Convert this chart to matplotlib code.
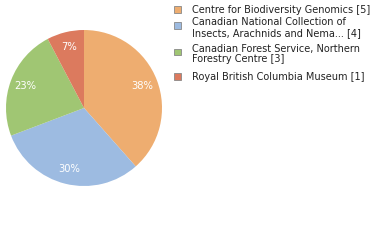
import matplotlib
matplotlib.use("Agg")
import matplotlib.pyplot as plt
from matplotlib.patches import Rectangle

labels = ["Centre for Biodiversity Genomics [5]",
          "Canadian National Collection of\nInsects, Arachnids and Nema... [4]",
          "Canadian Forest Service, Northern\nForestry Centre [3]",
          "Royal British Columbia Museum [1]"]
counts = [5, 4, 3, 1]
colors = ["#EEAD70", "#9DBBE1", "#A0C673", "#DC7A5E"]

W, H = 380, 240
fig = plt.figure(figsize=(W / 100, H / 100), dpi=100)

# pie: centre ~(84,108), radius ~78 px
cx, cy, r = 84, 108, 78
ax = fig.add_axes([(cx - r) / W, 1 - (cy + r) / H, 2 * r / W, 2 * r / H])
wedges, texts, autotexts = ax.pie(
    counts, colors=colors, startangle=90, counterclock=False,
    autopct=lambda p: f"{int(p)}%", pctdistance=0.8,
    wedgeprops=dict(linewidth=0),
    textprops=dict(color="white", fontsize=7.2))
ax.set_xlim(-1, 1)
ax.set_ylim(-1, 1)
ax.set_aspect("equal")
ax.axis("off")

# legend drawn by hand
square_y = [10, 26, 52, 77]
text_y = [10, 27.5, 54, 76.5]
for lab, col, sy, ty in zip(labels, colors, square_y, text_y):
    fig.patches.append(Rectangle((174 / W, 1 - (sy + 3) / H), 6.5 / W, 6.5 / H,
                                 transform=fig.transFigure, facecolor=col,
                                 edgecolor="#888888", linewidth=0.6))
    fig.text(192 / W, 1 - ty / H, lab, fontsize=7, color="#222222",
             va="center", ha="left", linespacing=1.1)

fig.savefig("out.png", dpi=100)
